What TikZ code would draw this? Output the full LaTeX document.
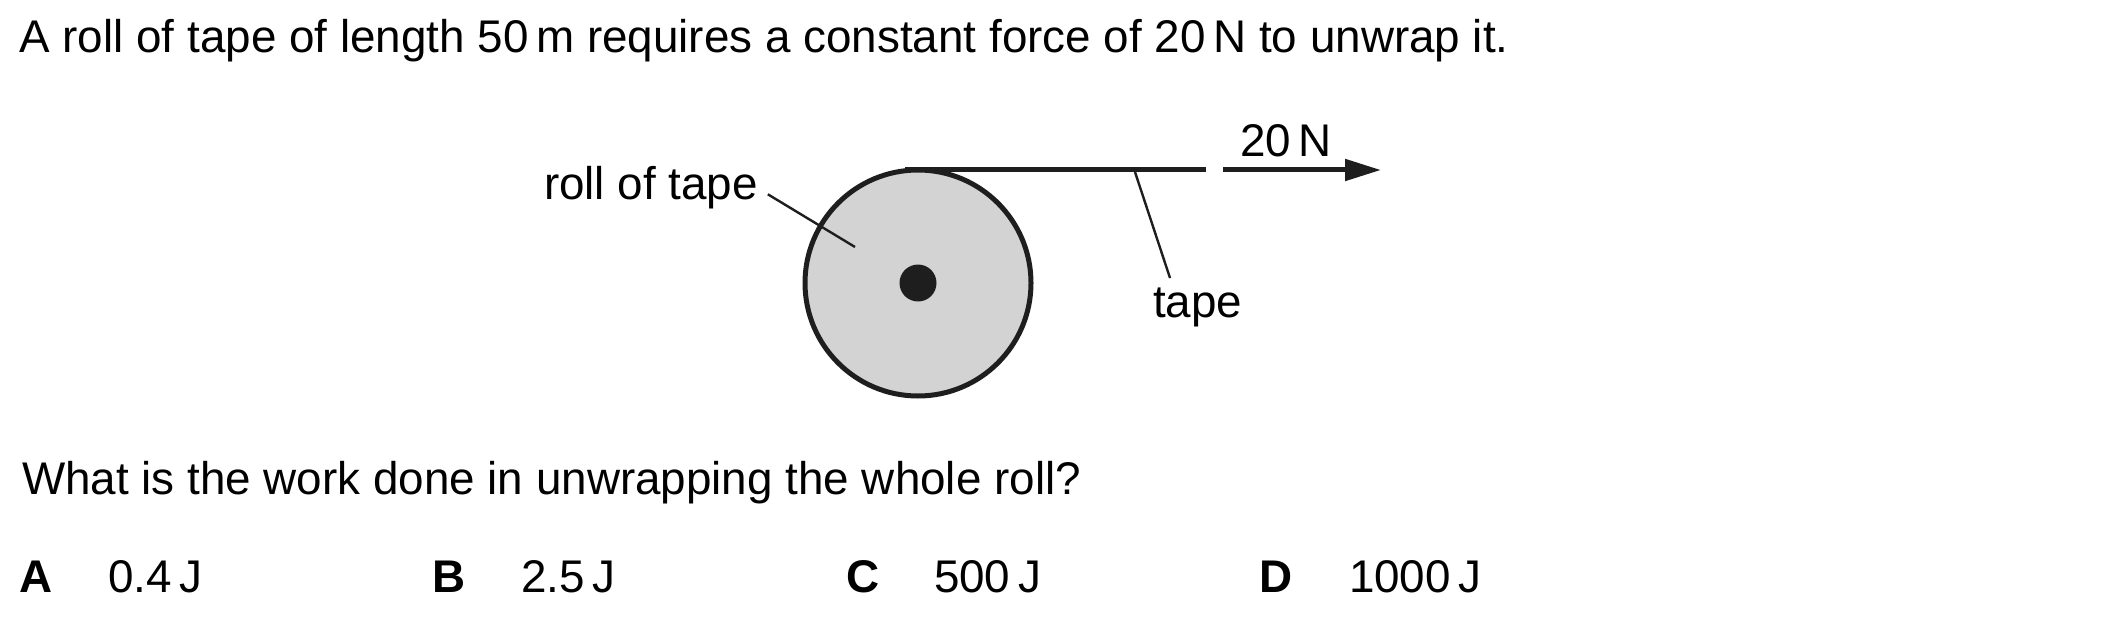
\documentclass[tikz,border=0pt]{standalone}
\usepackage{fontspec}
\setmainfont{Liberation Sans}
\usetikzlibrary{arrows.meta}
\definecolor{rollgray}{RGB}{211,211,211}
\definecolor{ink}{RGB}{30,30,30}
\begin{document}
\begin{tikzpicture}[x=1pt,y=-1pt,
  txt/.style={inner sep=0pt, outer sep=0pt, anchor=base west, text=black, font=\fontsize{45.8}{54}\selectfont},
  opt/.style={txt, font=\fontsize{45.8}{54}\selectfont\bfseries},
  tapeline/.style={line width=5pt, draw=ink},
  leader/.style={line width=2.4pt, draw=ink},
  roll/.style={circle, draw=ink, line width=5pt, fill=rollgray, inner sep=0pt, minimum size=226pt},
  hub/.style={circle, fill=ink, inner sep=0pt, minimum size=37pt}
]
\useasboundingbox (0,0) rectangle (2101,631);

% texts
\node[txt] (intro) at (19.5,52.7) {A roll of tape of length 50\,m requires a constant force of 20\,N to unwrap it.};
\node[txt] (question) at (22,494) {What is the work done in unwrapping the whole roll?};

\node[opt] (A) at (19.3,592.7) {A};
\node[txt] (Aval) at (108,592.7) {0.4\,J};
\node[opt] (B) at (432,592.7) {B};
\node[txt] (Bval) at (521,592.7) {2.5\,J};
\node[opt] (C) at (846,592.7) {C};
\node[txt] (Cval) at (934,592.7) {500\,J};
\node[opt] (D) at (1259,592.7) {D};
\node[txt] (Dval) at (1349,592.7) {1000\,J};

% roll
\node[roll] (rollc) at (918,283) {};
\node[hub] (hubc) at (918,283) {};

% tape and force
\coordinate (tapestart) at (905,170);
\coordinate (tapeend) at (1206,170);
\draw[tapeline] (tapestart) -- (tapeend);
\coordinate (fstart) at (1223,170);
\coordinate (fend) at (1381,170);
\draw[tapeline, -{Triangle[length=36pt,width=21pt]}] (fstart) -- (fend);
\node[txt] (force) at (1240,157) {20\,N};

% labels
\node[txt] (rolllabel) at (544,199.3) {roll of tape};
\coordinate (rollpt) at (855,247);
\draw[leader] ([xshift=10pt,yshift=5pt]rolllabel.base east) -- (rollpt);

\node[txt] (tapelabel) at (1153,317) {tape};
\coordinate (tapept) at (1135,172);
\coordinate (tapelead) at (1170,278);
\draw[leader] (tapept) -- (tapelead);
\end{tikzpicture}
\end{document}
